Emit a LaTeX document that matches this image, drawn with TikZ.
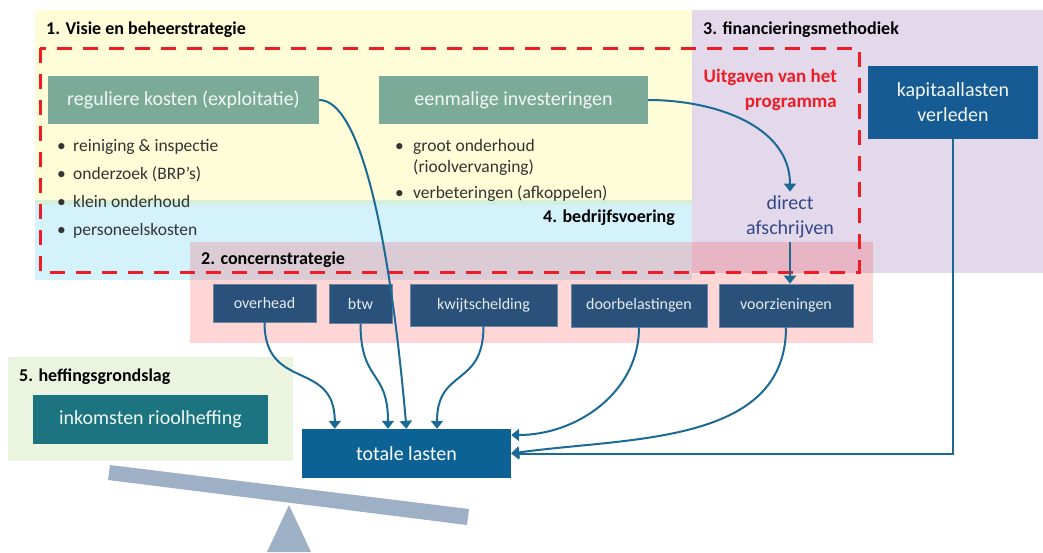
\documentclass[tikz,border=0pt]{standalone}
\usepackage{fontspec}
\setmainfont{Carlito}
\usetikzlibrary{arrows.meta}
\definecolor{zoneYellow}{HTML}{FFFCD8}
\definecolor{zoneBlue}{RGB}{0,176,240}
\definecolor{zonePurple}{HTML}{E4D8EB}
\definecolor{zoneGreen}{HTML}{EAF4DE}
\definecolor{progRed}{HTML}{EE1C25}
\definecolor{tealBox}{HTML}{7BAA98}
\definecolor{darkBox}{HTML}{2A5179}
\definecolor{kapBlue}{HTML}{175B94}
\definecolor{heffBox}{HTML}{1C7480}
\definecolor{totBox}{HTML}{0C6195}
\definecolor{arrowBlue}{HTML}{1B6A96}
\definecolor{directText}{HTML}{33488A}
\definecolor{scaleGrey}{HTML}{9DB0C6}
\begin{document}
\begin{tikzpicture}[x=1pt, y=-1pt,
  boxStyle/.style={rectangle, inner sep=0pt, text=white!90!tealBox, font=\fontsize{20}{25}\selectfont, align=center},
  smallStyle/.style={rectangle, fill=darkBox, draw=darkBox!70!white, line width=0.6pt, inner sep=0pt, text=white!88!darkBox, font=\fontsize{16}{19}\selectfont},
  titleStyle/.style={anchor=base west, inner sep=0pt, font=\bfseries\fontsize{18}{21}\selectfont},
  listStyle/.style={anchor=north west, inner sep=0pt, align=left, text=black!80, font=\fontsize{17.5}{28}\selectfont},
  arrowStyle/.style={draw=arrowBlue, line width=2pt, -{Triangle[width=12pt,length=8pt]}}]
  \useasboundingbox (0,0) rectangle (1043,552);

  \fill[zoneYellow] (35,10) rectangle (692,205);
  \fill[zoneBlue, fill opacity=0.17] (35,200) rectangle (692,280);
  \fill[zonePurple] (692,10) rectangle (1043,273);
  \fill[zoneGreen] (8,357) rectangle (293,461);
  \fill[red, fill opacity=0.16] (190,242) rectangle (873,343);
  \draw[progRed, line width=3pt, dash pattern=on 15pt off 11pt] (40,48) rectangle (859,272);

  \fill[scaleGrey] (110,465) -- (469,509) -- (467,525) -- (108,480) -- cycle;
  \fill[scaleGrey] (289,505) -- (311,552) -- (267,552) -- cycle;

  \node[titleStyle] (t1) at (46,34) {1. Visie en beheerstrategie};
  \node[titleStyle] (t3) at (703,34) {3. financieringsmethodiek};
  \node[titleStyle] (t4) at (543,222) {4. bedrijfsvoering};
  \node[titleStyle] (t2) at (201,264) {2. concernstrategie};
  \node[titleStyle] (t5) at (19,381) {5. heffingsgrondslag};
  \node[anchor=east, align=right, inner sep=0pt, text=progRed, font=\bfseries\fontsize{19}{25}\selectfont] (uitg) at (837,90) {Uitgaven van het\\programma};

  \node[boxStyle, fill=tealBox, minimum width=271pt, minimum height=48pt] (reg) at (183.5,100) {reguliere kosten (exploitatie)};
  \node[boxStyle, fill=tealBox, minimum width=269pt, minimum height=48pt] (een) at (513.5,100) {eenmalige investeringen};
  \node[boxStyle, fill=kapBlue, minimum width=170pt, minimum height=73pt] (kap) at (953,102.5) {kapitaallasten\\verleden};
  \node[align=center, inner sep=4pt, text=directText, font=\fontsize{20}{25}\selectfont] (dir) at (790,217) {direct\\afschrijven};

  \node[listStyle] (reglist) at (57,139.5) {\makebox[16pt][l]{\textbullet}reiniging \& inspectie\\
    \makebox[16pt][l]{\textbullet}onderzoek (BRP’s)\\
    \makebox[16pt][l]{\textbullet}klein onderhoud\\
    \makebox[16pt][l]{\textbullet}personeelskosten};
  \node[listStyle, font=\fontsize{17.5}{21}\selectfont] (eenlist) at (395,139.5) {\makebox[18pt][l]{\textbullet}groot onderhoud\\
    \hspace*{18pt}(rioolvervanging)\\[5pt]
    \makebox[18pt][l]{\textbullet}verbeteringen (afkoppelen)};

  \node[smallStyle, minimum width=103pt, minimum height=38pt] (ovh) at (264.5,303) {overhead};
  \node[smallStyle, minimum width=63pt, minimum height=39pt] (btw) at (360.5,303.5) {btw};
  \node[smallStyle, minimum width=147pt, minimum height=42pt] (kwijt) at (483.5,305) {kwijtschelding};
  \node[smallStyle, minimum width=136pt, minimum height=43pt] (doorb) at (639,305.5) {doorbelastingen};
  \node[smallStyle, minimum width=134pt, minimum height=43pt] (voorz) at (786,305.5) {voorzieningen};

  \node[boxStyle, fill=heffBox, minimum width=235pt, minimum height=49pt] (ink) at (150.5,419.5) {inkomsten rioolheffing};
  \node[boxStyle, fill=totBox, minimum width=209pt, minimum height=49pt, text=white] (tot) at (406.5,453.5) {totale lasten};

  \draw[arrowStyle] (reg.east) to[out=0, in=95, out distance=40pt, in distance=200pt] (tot.north);
  \draw[arrowStyle] (een.east) to[out=0, in=90] (dir.north);
  \draw[arrowStyle] (dir.south) -- (dir.south |- voorz.north);
  \draw[arrowStyle] (ovh.south) to[out=-90, in=90, looseness=1.4] ([xshift=33pt]tot.north west);
  \draw[arrowStyle] (btw.south) to[out=-90, in=90, looseness=1.4] ([xshift=-18.5pt]tot.north);
  \draw[arrowStyle] (kwijt.south) to[out=-90, in=90, looseness=1.4] ([xshift=30.5pt]tot.north);
  \draw[arrowStyle] (doorb.south) to[out=-90, in=0] ([yshift=18.5pt]tot.east);
  \draw[arrowStyle] (voorz.south) to[out=-90, in=8] (tot.east);
  \draw[arrowStyle] (kap.south) |- (tot.east);
\end{tikzpicture}
\end{document}
